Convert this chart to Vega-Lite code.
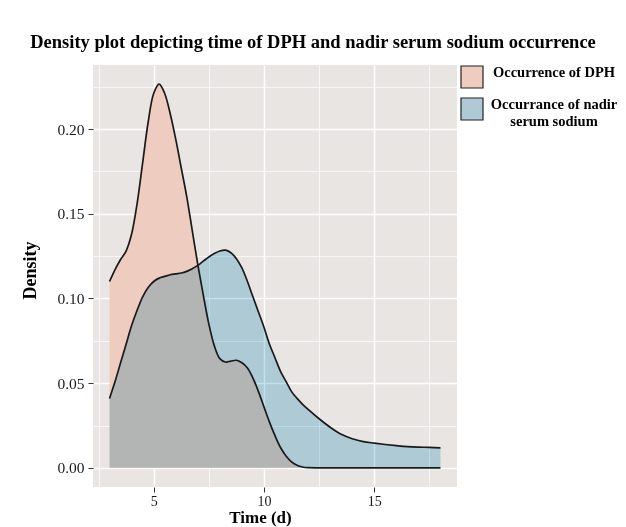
{
  "$schema": "https://vega.github.io/schema/vega-lite/v6.json",
  "autosize": "none",
  "width": 364,
  "height": 422,
  "padding": {"left": 93, "top": 65, "right": 169, "bottom": 40},
  "background": "white",
  "title": {"text": "Density plot depicting time of DPH and nadir serum sodium occurrence", "font": "Liberation Serif", "fontSize": 18.5, "fontWeight": "bold", "color": "#000", "anchor": "middle", "dx": 38, "offset": 14},
  "config": {
    "view": {"fill": "#E8E5E3", "stroke": null},
    "axis": {"domain": false, "tickColor": "#333", "tickSize": 5, "tickWidth": 1, "labelFont": "Liberation Serif", "labelColor": "#1a1a1a", "titleFont": "Liberation Serif", "titleFontSize": 18, "titleFontWeight": "bold", "titleColor": "#000", "gridColor": "#ffffff", "gridOpacity": 1},
    "legend": {"labelFont": "Liberation Serif", "labelFontSize": 14.5, "labelFontWeight": "bold", "labelColor": "#000", "symbolType": "square", "symbolSize": 484, "symbolStrokeColor": "#222", "symbolStrokeWidth": 1.2, "symbolOpacity": 1, "rowPadding": 4, "labelAlign": "center", "labelOffset": 70, "labelLimit": 300, "labelBaseline": "alphabetic", "padding": 0}
  },
  "data": {"values": [
    {"t": 3.0, "d": 0.110, "s": "Occurrence of DPH"},
    {"t": 3.25, "d": 0.117, "s": "Occurrence of DPH"},
    {"t": 3.5, "d": 0.123, "s": "Occurrence of DPH"},
    {"t": 3.75, "d": 0.128, "s": "Occurrence of DPH"},
    {"t": 4.0, "d": 0.138, "s": "Occurrence of DPH"},
    {"t": 4.25, "d": 0.156, "s": "Occurrence of DPH"},
    {"t": 4.5, "d": 0.180, "s": "Occurrence of DPH"},
    {"t": 4.75, "d": 0.204, "s": "Occurrence of DPH"},
    {"t": 5.0, "d": 0.221, "s": "Occurrence of DPH"},
    {"t": 5.25, "d": 0.2265, "s": "Occurrence of DPH"},
    {"t": 5.5, "d": 0.221, "s": "Occurrence of DPH"},
    {"t": 5.75, "d": 0.209, "s": "Occurrence of DPH"},
    {"t": 6.0, "d": 0.194, "s": "Occurrence of DPH"},
    {"t": 6.25, "d": 0.177, "s": "Occurrence of DPH"},
    {"t": 6.5, "d": 0.160, "s": "Occurrence of DPH"},
    {"t": 6.75, "d": 0.140, "s": "Occurrence of DPH"},
    {"t": 7.0, "d": 0.120, "s": "Occurrence of DPH"},
    {"t": 7.25, "d": 0.102, "s": "Occurrence of DPH"},
    {"t": 7.5, "d": 0.085, "s": "Occurrence of DPH"},
    {"t": 7.75, "d": 0.072, "s": "Occurrence of DPH"},
    {"t": 8.0, "d": 0.0645, "s": "Occurrence of DPH"},
    {"t": 8.25, "d": 0.0625, "s": "Occurrence of DPH"},
    {"t": 8.5, "d": 0.063, "s": "Occurrence of DPH"},
    {"t": 8.75, "d": 0.0635, "s": "Occurrence of DPH"},
    {"t": 9.0, "d": 0.062, "s": "Occurrence of DPH"},
    {"t": 9.25, "d": 0.059, "s": "Occurrence of DPH"},
    {"t": 9.5, "d": 0.053, "s": "Occurrence of DPH"},
    {"t": 9.75, "d": 0.045, "s": "Occurrence of DPH"},
    {"t": 10.0, "d": 0.036, "s": "Occurrence of DPH"},
    {"t": 10.25, "d": 0.027, "s": "Occurrence of DPH"},
    {"t": 10.5, "d": 0.019, "s": "Occurrence of DPH"},
    {"t": 10.75, "d": 0.012, "s": "Occurrence of DPH"},
    {"t": 11.0, "d": 0.007, "s": "Occurrence of DPH"},
    {"t": 11.25, "d": 0.0035, "s": "Occurrence of DPH"},
    {"t": 11.5, "d": 0.0015, "s": "Occurrence of DPH"},
    {"t": 11.75, "d": 0.0005, "s": "Occurrence of DPH"},
    {"t": 12.0, "d": 0.0001, "s": "Occurrence of DPH"},
    {"t": 12.5, "d": 0.0, "s": "Occurrence of DPH"},
    {"t": 13.0, "d": 0.0, "s": "Occurrence of DPH"},
    {"t": 14.0, "d": 0.0, "s": "Occurrence of DPH"},
    {"t": 15.0, "d": 0.0, "s": "Occurrence of DPH"},
    {"t": 16.0, "d": 0.0, "s": "Occurrence of DPH"},
    {"t": 17.0, "d": 0.0, "s": "Occurrence of DPH"},
    {"t": 18.0, "d": 0.0, "s": "Occurrence of DPH"},
    {"t": 3.0, "d": 0.041, "s": "Occurrance of nadir serum sodium"},
    {"t": 3.25, "d": 0.051, "s": "Occurrance of nadir serum sodium"},
    {"t": 3.5, "d": 0.062, "s": "Occurrance of nadir serum sodium"},
    {"t": 3.75, "d": 0.073, "s": "Occurrance of nadir serum sodium"},
    {"t": 4.0, "d": 0.084, "s": "Occurrance of nadir serum sodium"},
    {"t": 4.25, "d": 0.093, "s": "Occurrance of nadir serum sodium"},
    {"t": 4.5, "d": 0.101, "s": "Occurrance of nadir serum sodium"},
    {"t": 4.75, "d": 0.1065, "s": "Occurrance of nadir serum sodium"},
    {"t": 5.0, "d": 0.110, "s": "Occurrance of nadir serum sodium"},
    {"t": 5.25, "d": 0.112, "s": "Occurrance of nadir serum sodium"},
    {"t": 5.5, "d": 0.113, "s": "Occurrance of nadir serum sodium"},
    {"t": 5.75, "d": 0.114, "s": "Occurrance of nadir serum sodium"},
    {"t": 6.0, "d": 0.1145, "s": "Occurrance of nadir serum sodium"},
    {"t": 6.25, "d": 0.115, "s": "Occurrance of nadir serum sodium"},
    {"t": 6.5, "d": 0.116, "s": "Occurrance of nadir serum sodium"},
    {"t": 6.75, "d": 0.1175, "s": "Occurrance of nadir serum sodium"},
    {"t": 7.0, "d": 0.1195, "s": "Occurrance of nadir serum sodium"},
    {"t": 7.25, "d": 0.122, "s": "Occurrance of nadir serum sodium"},
    {"t": 7.5, "d": 0.1245, "s": "Occurrance of nadir serum sodium"},
    {"t": 7.75, "d": 0.1265, "s": "Occurrance of nadir serum sodium"},
    {"t": 8.0, "d": 0.128, "s": "Occurrance of nadir serum sodium"},
    {"t": 8.25, "d": 0.1285, "s": "Occurrance of nadir serum sodium"},
    {"t": 8.5, "d": 0.127, "s": "Occurrance of nadir serum sodium"},
    {"t": 8.75, "d": 0.1235, "s": "Occurrance of nadir serum sodium"},
    {"t": 9.0, "d": 0.118, "s": "Occurrance of nadir serum sodium"},
    {"t": 9.25, "d": 0.110, "s": "Occurrance of nadir serum sodium"},
    {"t": 9.5, "d": 0.101, "s": "Occurrance of nadir serum sodium"},
    {"t": 9.75, "d": 0.092, "s": "Occurrance of nadir serum sodium"},
    {"t": 10.0, "d": 0.083, "s": "Occurrance of nadir serum sodium"},
    {"t": 10.25, "d": 0.073, "s": "Occurrance of nadir serum sodium"},
    {"t": 10.5, "d": 0.065, "s": "Occurrance of nadir serum sodium"},
    {"t": 10.75, "d": 0.057, "s": "Occurrance of nadir serum sodium"},
    {"t": 11.0, "d": 0.051, "s": "Occurrance of nadir serum sodium"},
    {"t": 11.25, "d": 0.045, "s": "Occurrance of nadir serum sodium"},
    {"t": 11.5, "d": 0.041, "s": "Occurrance of nadir serum sodium"},
    {"t": 11.75, "d": 0.0375, "s": "Occurrance of nadir serum sodium"},
    {"t": 12.0, "d": 0.0345, "s": "Occurrance of nadir serum sodium"},
    {"t": 12.5, "d": 0.029, "s": "Occurrance of nadir serum sodium"},
    {"t": 13.0, "d": 0.024, "s": "Occurrance of nadir serum sodium"},
    {"t": 13.5, "d": 0.0198, "s": "Occurrance of nadir serum sodium"},
    {"t": 14.0, "d": 0.0172, "s": "Occurrance of nadir serum sodium"},
    {"t": 14.5, "d": 0.0155, "s": "Occurrance of nadir serum sodium"},
    {"t": 15.0, "d": 0.0146, "s": "Occurrance of nadir serum sodium"},
    {"t": 15.5, "d": 0.0138, "s": "Occurrance of nadir serum sodium"},
    {"t": 16.0, "d": 0.0131, "s": "Occurrance of nadir serum sodium"},
    {"t": 16.5, "d": 0.0125, "s": "Occurrance of nadir serum sodium"},
    {"t": 17.0, "d": 0.0122, "s": "Occurrance of nadir serum sodium"},
    {"t": 17.5, "d": 0.0121, "s": "Occurrance of nadir serum sodium"},
    {"t": 18.0, "d": 0.0118, "s": "Occurrance of nadir serum sodium"}
  ]},
  "layer": [
    {
      "transform": [{"filter": {"field": "s", "equal": "Occurrence of DPH"}}],
      "mark": {"type": "area", "interpolate": "catmull-rom"},
      "encoding": {
        "x": {"field": "t", "type": "quantitative", "scale": {"domain": [2.25, 18.75], "nice": false, "zero": false},
              "axis": {"values": [2.5, 5, 7.5, 10, 12.5, 15, 17.5], "title": "Time (d)", "labelFontSize": 14, "labelPadding": 2, "titlePadding": 1, "titleFontSize": 17, "titleX": 167,
                       "labelExpr": "datum.value % 5 == 0 ? datum.label : ''",
                       "tickOpacity": {"condition": {"test": "datum.value % 5 != 0", "value": 0}, "value": 1},
                       "gridWidth": {"condition": {"test": "datum.value % 5 != 0", "value": 0.7}, "value": 1.5}}},
        "y": {"field": "d", "type": "quantitative", "scale": {"domain": [-0.0113, 0.2378], "nice": false, "zero": false},
              "axis": {"values": [0, 0.025, 0.05, 0.075, 0.1, 0.125, 0.15, 0.175, 0.2, 0.225], "format": ".2f", "title": "Density", "labelFontSize": 15.5, "labelPadding": 4, "titlePadding": 17, "titleY": 205,
                       "labelExpr": "round(datum.value * 1000) % 50 == 0 ? datum.label : ''",
                       "tickOpacity": {"condition": {"test": "round(datum.value * 1000) % 50 != 0", "value": 0}, "value": 1},
                       "gridWidth": {"condition": {"test": "round(datum.value * 1000) % 50 != 0", "value": 0.7}, "value": 1.5}}},
        "fill": {"field": "s", "type": "nominal",
                 "scale": {"domain": ["Occurrence of DPH", "Occurrance of nadir serum sodium"], "range": ["#EECDC0", "#AFCAD6"]},
                 "legend": {"title": null, "orient": "right", "offset": 3,
                            "labelExpr": "datum.label == 'Occurrance of nadir serum sodium' ? ['Occurrance of nadir', 'serum sodium'] : datum.label"}}
      }
    },
    {
      "transform": [{"filter": {"field": "s", "equal": "Occurrance of nadir serum sodium"}}],
      "mark": {"type": "area", "interpolate": "catmull-rom", "fill": "#C0E1F0", "blend": "multiply"},
      "encoding": {
        "x": {"field": "t", "type": "quantitative"},
        "y": {"field": "d", "type": "quantitative"}
      }
    },
    {
      "mark": {"type": "line", "interpolate": "catmull-rom", "color": "#1a1a1a", "strokeWidth": 1.7},
      "encoding": {
        "x": {"field": "t", "type": "quantitative"},
        "y": {"field": "d", "type": "quantitative"},
        "detail": {"field": "s", "type": "nominal"}
      }
    }
  ]
}
